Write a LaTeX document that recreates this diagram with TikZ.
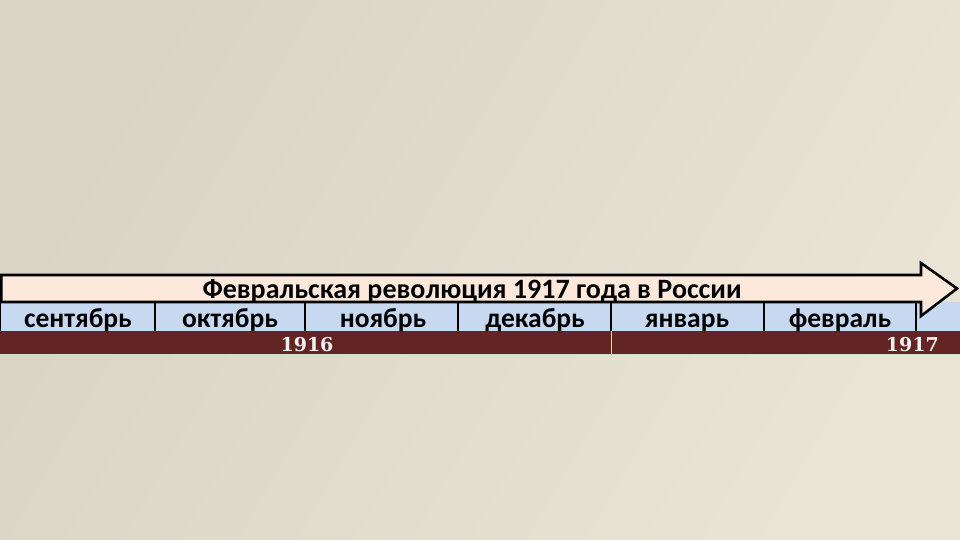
\documentclass[tikz,border=0pt]{standalone}
\usepackage{fontspec}
\setmainfont{Carlito}
\newfontfamily\yearfont{DejaVu Serif}
\definecolor{bgA}{HTML}{D9D5C5}
\definecolor{bgB}{HTML}{E8E5D6}
\definecolor{arrowfill}{HTML}{FCE9DB}
\definecolor{monthfill}{HTML}{C6D9F0}
\definecolor{yearfill}{HTML}{632523}
\tikzset{
  px/.style={x=1pt,y=-1pt},
  month/.style={font=\fontsize{27.5}{27.5}\selectfont\bfseries, text=black, anchor=base, inner sep=0pt},
  yeartext/.style={font=\yearfont\fontsize{19}{19}\selectfont\bfseries, text=white!95!black, inner sep=0pt},
  sep/.style={draw=black, line width=1.6pt},
}
\begin{document}
\begin{tikzpicture}[px]
\useasboundingbox (0,0) rectangle (960,540);
\shade[shading=axis, left color=bgA, right color=bgB, shading angle=60] (0,0) rectangle (960,540);
% month row
\fill[monthfill] (0,302) rectangle (960,331);
\draw[black, line width=1.2pt] (0.6,302) -- (0.6,331);
\foreach \x in {155,305,458,611,764,916} \draw[sep] (\x,302) -- (\x,331);
% year row
\fill[yearfill] (0,331) rectangle (960,354);
\draw[white!85!black, line width=1pt] (611,331) -- (611,354);
\draw[white!85!black, line width=0.8pt] (0,354.5) -- (960,354.5);
% arrow
\draw[fill=arrowfill, draw=black, line width=2.6pt, line join=miter]
  (1.3,275) -- (921,275) -- (921,263) -- (957,288.5) -- (921,316) -- (921,302) -- (1.3,302) -- cycle;
\node[font=\fontsize{28}{28}\selectfont\bfseries, inner sep=0pt, anchor=base] (title) at (472,298) {Февральская революция 1917 года в России};
% months
\node[month] (sep) at (78,327) {сентябрь};
\node[month] (oct) at (230,327) {октябрь};
\node[month] (nov) at (383,327) {ноябрь};
\node[month] (dec) at (535,327) {декабрь};
\node[month] (jan) at (687,327) {январь};
\node[month] (feb) at (840,327) {февраль};
% years
\node[yeartext, anchor=base] (y1916) at (307,351) {1916};
\node[yeartext, anchor=base east] (y1917) at (939,351) {1917};
\end{tikzpicture}
\end{document}
